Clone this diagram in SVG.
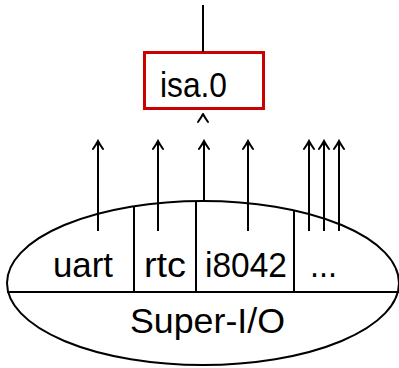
<svg xmlns="http://www.w3.org/2000/svg" width="399" height="368" viewBox="0 0 399 368">
<style>
.ln{stroke:#000;stroke-width:2;fill:none}
.hd{stroke:#000;stroke-width:2;fill:none;stroke-linecap:round;stroke-linejoin:round}
.t{font-family:"Liberation Sans","DejaVu Sans",sans-serif;font-size:35px;fill:#000}
</style>
<defs>
<marker id="ah" viewBox="-10 -7 12 14" refX="0" refY="0" markerWidth="12" markerHeight="14" markerUnits="userSpaceOnUse" orient="auto">
<path d="M-8,-5 Q-3,-1.5 0,0 Q-3,1.5 -8,5" style="stroke:#000;stroke-width:2;fill:none;stroke-linecap:round"/>
</marker>
</defs>
<rect width="399" height="368" fill="#fff"/>
<g id="isa0">
<rect x="144.5" y="52.5" width="119" height="56" fill="#fff" stroke="#cc0000" stroke-width="3"/>
<text class="t" x="160" y="97" textLength="67" lengthAdjust="spacingAndGlyphs">isa.0</text>
</g>
<g id="superio">
<ellipse cx="203" cy="283" rx="196" ry="82" class="ln"/>
<line x1="7" y1="292" x2="399" y2="292" class="ln"/>
<line x1="134" y1="206" x2="134" y2="292" class="ln"/>
<line x1="196" y1="201" x2="196" y2="292" class="ln"/>
<line x1="294" y1="211" x2="294" y2="292" class="ln"/>
<text class="t" x="53" y="277" textLength="60" lengthAdjust="spacingAndGlyphs">uart</text>
<text class="t" x="144" y="277" textLength="42" lengthAdjust="spacingAndGlyphs">rtc</text>
<text class="t" x="205" y="277" textLength="82" lengthAdjust="spacingAndGlyphs">i8042</text>
<text class="t" x="310" y="277" textLength="27" lengthAdjust="spacingAndGlyphs">...</text>
<text class="t" x="130" y="333" textLength="155" lengthAdjust="spacingAndGlyphs">Super-I/O</text>
</g>
<g id="connectors">
<line x1="203" y1="5" x2="203" y2="52" class="ln"/>
<path d="M198,122 Q201.5,117 203,114 Q204.5,117 208,122" class="hd"/>
<line x1="204" y1="201" x2="204" y2="141" class="ln" marker-end="url(#ah)"/>
<line x1="98" y1="231" x2="98" y2="141" class="ln" marker-end="url(#ah)"/>
<line x1="158" y1="231" x2="158" y2="141" class="ln" marker-end="url(#ah)"/>
<line x1="248" y1="231" x2="248" y2="141" class="ln" marker-end="url(#ah)"/>
<line x1="309" y1="231" x2="309" y2="141" class="ln" marker-end="url(#ah)"/>
<line x1="324" y1="231" x2="324" y2="141" class="ln" marker-end="url(#ah)"/>
<line x1="339" y1="231" x2="339" y2="141" class="ln" marker-end="url(#ah)"/>
</g>
</svg>
